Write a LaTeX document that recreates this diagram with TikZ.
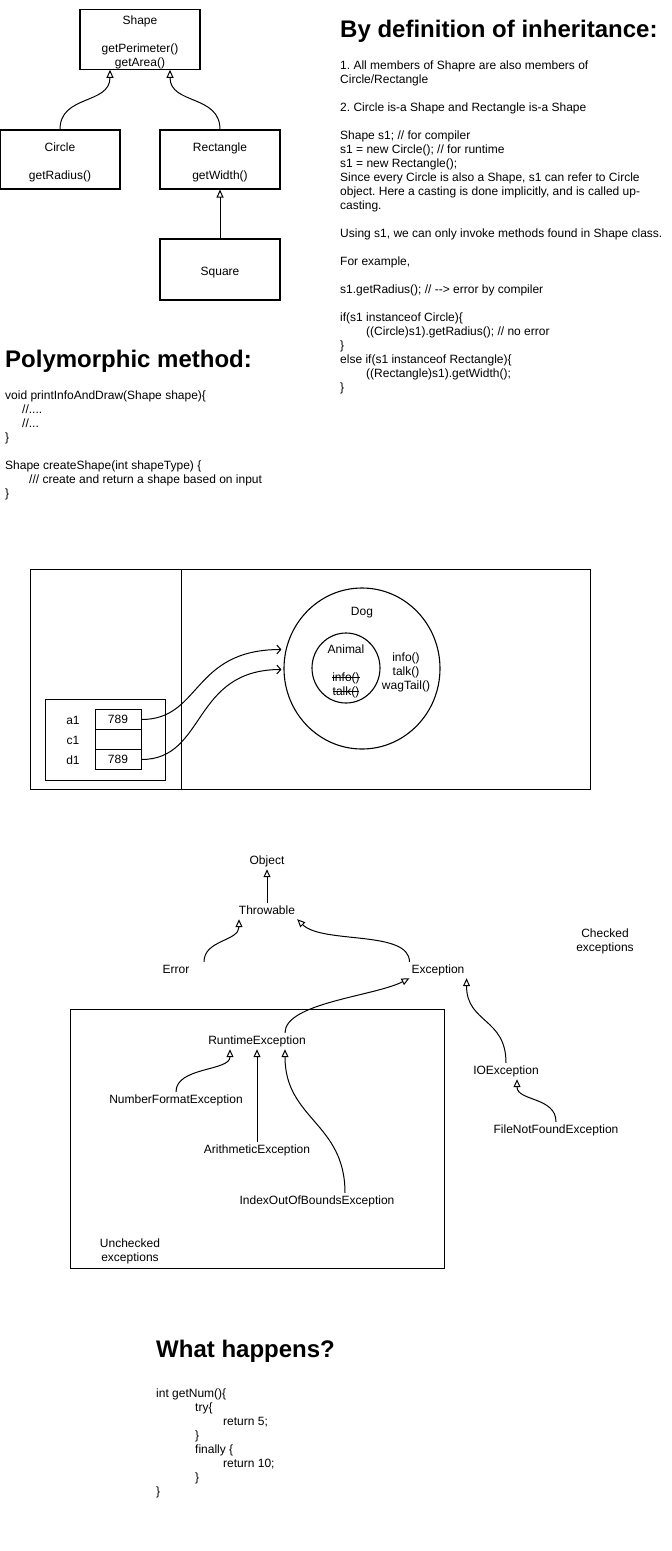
\documentclass[tikz,border=0pt]{standalone}
\usepackage{fontspec}
\setmainfont{Liberation Sans}
\usetikzlibrary{arrows.meta,shapes.geometric,calc}
\newcommand\mystrk[1]{\leavevmode\setbox0\hbox{#1}\rlap{\rule[0.3em]{\wd0}{0.6pt}}\box0}
\newcommand\lowstrut{\rule{0pt}{15pt}}
\frenchspacing
\begin{document}
\begin{tikzpicture}[x=1pt,y=-1pt,
  every node/.style={font=\fontsize{12}{14}\selectfont\frenchspacing},
  box/.style={draw,line width=1.1pt,minimum width=120pt,align=center,inner sep=0pt},
  lbl/.style={inner sep=2pt,text height=9pt,text depth=3pt},
  inh/.style={draw,line width=1pt,-{Triangle[open,length=8pt,width=7pt]}},
  ref/.style={draw,line width=1pt,-{Straight Barb[length=4pt,width=9pt]}},
  txt/.style={anchor=base west,align=left,inner sep=0pt},
  ttl/.style={anchor=base west,inner sep=0pt,font=\fontsize{24}{28}\selectfont\bfseries},
  frame/.style={draw,line width=1pt,inner sep=0pt},
  oval/.style={ellipse,draw,line width=1.1pt,inner sep=0pt}
]
\useasboundingbox (0,0) rectangle (672,1551);

% ---------- class diagram ----------
\node[box,minimum height=59pt] (shape) at (140,39.5) {\lowstrut Shape\\[14pt]getPerimeter()\\getArea()};
\node[box,minimum height=59pt] (circ) at (60,159.5) {\lowstrut Circle\\[14pt]getRadius()};
\node[box,minimum height=59pt] (rect) at (220,159.5) {\lowstrut Rectangle\\[14pt]getWidth()};
\node[box,minimum height=61pt] (square) at (220,269.5) {\lowstrut Square};
\draw[inh] (circ.north) .. controls +(0,-35) and +(0,35) .. ([xshift=-30pt]shape.south);
\draw[inh] (rect.north) .. controls +(0,-35) and +(0,35) .. ([xshift=30pt]shape.south);
\draw[inh] (square.north) -- (rect.south);

% ---------- inheritance text (base = last line) ----------
\node[ttl] (t1) at (340,37) {By definition of inheritance:};
\node[txt] (inhtext) at (340,391) {1. All members of Shapre are also members of\\
Circle/Rectangle\\[14pt]
2. Circle is-a Shape and Rectangle is-a Shape\\[14pt]
Shape s1; // for compiler\\
s1 = new Circle(); // for runtime\\
s1 = new Rectangle();\\
Since every Circle is also a Shape, s1 can refer to Circle\\
object. Here a casting is done implicitly, and is called up-\\
casting.\\[14pt]
Using s1, we can only invoke methods found in Shape class.\\[14pt]
For example,\\[14pt]
s1.getRadius(); // -{}-> error by compiler\\[14pt]
if(s1 instanceof Circle)\{\\
\hspace*{26pt}((Circle)s1).getRadius(); // no error\\
\}\\
else if(s1 instanceof Rectangle)\{\\
\hspace*{26pt}((Rectangle)s1).getWidth();\\
\}};

% ---------- polymorphic ----------
\node[ttl] (t2) at (5,367) {Polymorphic method:};
\node[txt] (polytext) at (5,497) {void printInfoAndDraw(Shape shape)\{\\
\hspace*{17pt}//....\\
\hspace*{17pt}//...\\
\}\\[14pt]
Shape createShape(int shapeType) \{\\
\hspace*{24pt}/// create and return a shape based on input\\
\}};

% ---------- memory ----------
\node[frame,minimum width=151pt,minimum height=220pt] (stack) at (105.5,679) {};
\node[frame,minimum width=409pt,minimum height=220pt] (heap) at (385.5,679) {};
\node[frame,minimum width=120pt,minimum height=81pt] (vars) at (105,739.5) {};
\node[frame,minimum width=46pt,minimum height=20pt] (a1cell) at (118,719.5) {789};
\node[frame,minimum width=46pt,minimum height=20pt] (c1cell) at (118,739.5) {};
\node[frame,minimum width=46pt,minimum height=20pt] (d1cell) at (118,759.5) {789};
\node[lbl] (a1) at (73,721) {a1};
\node[lbl] (c1) at (73,741) {c1};
\node[lbl] (d1) at (73,761) {d1};
\node[oval,minimum width=156pt,minimum height=161pt] (dog) at (362,668.5) {};
\node[oval,minimum width=68pt,minimum height=70pt] (animal) at (346,668) {};
\node[lbl] (doglbl) at (362,612) {Dog};
\node[lbl] (animallbl) at (346,650) {Animal};
\node[align=center,inner sep=0pt] (animalm) at (346,685) {\mystrk{info()}\\\mystrk{talk()}};
\node[align=center,inner sep=0pt] (dogm) at (406,672) {info()\\talk()\\wagTail()};
\draw[ref] (a1cell.east) .. controls +(60,0) and +(-90,0) .. ($(dog.west)+(-2,-19)$);
\draw[ref] (d1cell.east) .. controls +(65,0) and +(-90,0) .. ($(dog.west)+(-2,1)$);

% ---------- exceptions ----------
\node[frame,minimum width=374pt,minimum height=259pt] (unchk) at (257,1138.5) {};
\node[lbl] (object) at (267,861) {Object};
\node[lbl] (throwable) at (267,911) {Throwable};
\node[lbl] (error) at (176,970) {Error};
\node[lbl] (exception) at (438,970) {Exception};
\node[align=center,inner sep=0pt] (checked) at (605,941) {Checked\\exceptions};
\node[lbl] (runtime) at (257,1041) {RuntimeException};
\node[lbl] (numfmt) at (176,1100) {NumberFormatException};
\node[lbl] (arith) at (257,1150) {ArithmeticException};
\node[lbl] (index) at (317,1201) {IndexOutOfBoundsException};
\node[align=center,inner sep=0pt] (unchklbl) at (130,1251) {Unchecked\\exceptions};
\node[lbl] (ioexc) at (506,1071) {IOException};
\node[lbl] (fnf) at (556,1130) {FileNotFoundException};
\draw[inh] (throwable.north) -- (object.south);
\draw[inh] ([xshift=28pt]error.north) .. controls +(0,-22) and +(0,22) .. ([xshift=-28pt]throwable.south);
\draw[inh] (exception.north west) .. controls +(0,-32) and +(25,25) .. (throwable.south east);
\draw[inh] ([xshift=28pt]runtime.north) .. controls +(0,-30) and +(-35,18) .. (exception.south west);
\draw[inh] (ioexc.north) .. controls +(0,-45) and +(0,45) .. (exception.south east);
\draw[inh] (fnf.north) .. controls +(0,-25) and +(0,22) .. ([xshift=11pt]ioexc.south);
\draw[inh] (numfmt.north) .. controls +(0,-25) and +(0,22) .. ([xshift=-27pt]runtime.south);
\draw[inh] (arith.north) -- (runtime.south);
\draw[inh] ([xshift=28pt]index.north) .. controls +(0,-70) and +(0,70) .. ([xshift=28pt]runtime.south);

% ---------- what happens ----------
\node[ttl] (t3) at (156,1357) {What happens?};
\node[txt] (code) at (156,1495) {int getNum()\{\\
\hspace*{39pt}try\{\\
\hspace*{67pt}return 5;\\
\hspace*{39pt}\}\\
\hspace*{39pt}finally \{\\
\hspace*{67pt}return 10;\\
\hspace*{39pt}\}\\
\}};
\end{tikzpicture}
\end{document}
